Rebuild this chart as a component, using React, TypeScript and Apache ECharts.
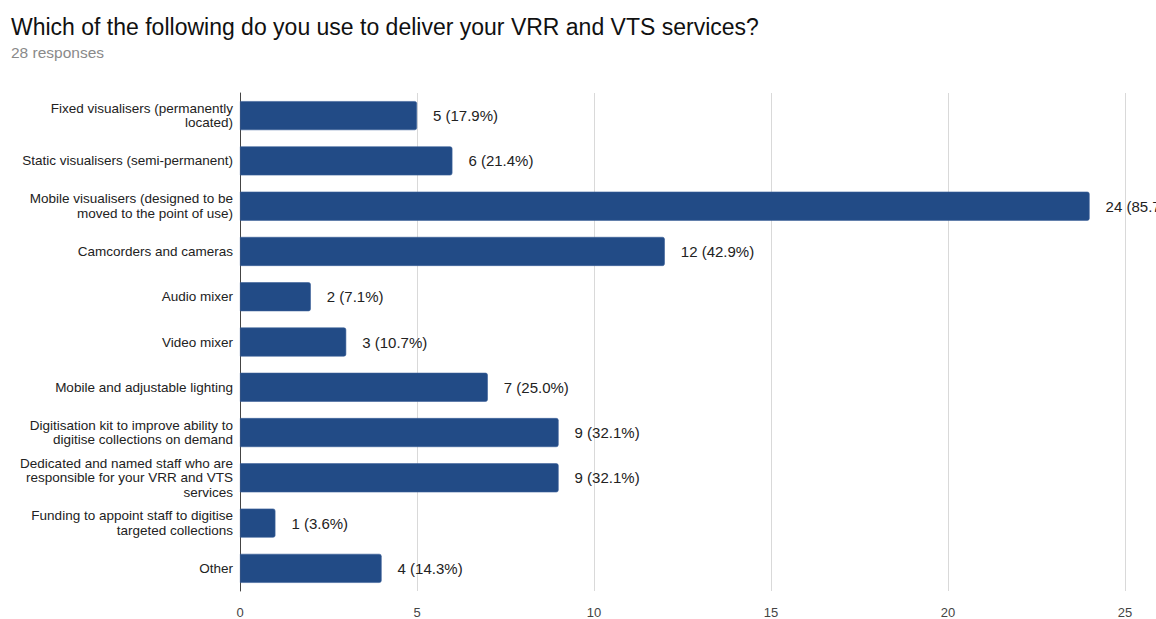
import React, { useEffect, useRef } from "react";
import * as echarts from "echarts";

const title = "Which of the following do you use to deliver your VRR and VTS services?";
const subtitle = "28 responses";
const totalResponses = 28;

const categories = [
  "Fixed visualisers (permanently\nlocated)",
  "Static visualisers (semi-permanent)",
  "Mobile visualisers (designed to be\nmoved to the point of use)",
  "Camcorders and cameras",
  "Audio mixer",
  "Video mixer",
  "Mobile and adjustable lighting",
  "Digitisation kit to improve ability to\ndigitise collections on demand",
  "Dedicated and named staff who are\nresponsible for your VRR and VTS\nservices",
  "Funding to appoint staff to digitise\ntargeted collections",
  "Other",
];

const counts = [5, 6, 24, 12, 2, 3, 7, 9, 9, 1, 4];

const xTicks = [0, 5, 10, 15, 20, 25];

export default function App() {
  const ref = useRef<HTMLDivElement>(null);

  useEffect(() => {
    if (!ref.current) return;
    const chart = echarts.init(ref.current, null, { renderer: "svg" });
    const font = "Arial, 'Liberation Sans', Helvetica, sans-serif";
    chart.setOption({
      animation: false,
      backgroundColor: "#ffffff",
      title: {
        text: title,
        subtext: subtitle,
        left: 6,
        top: 10,
        itemGap: 6,
        textStyle: { fontFamily: font, fontSize: 23, fontWeight: "normal", color: "#111111" },
        subtextStyle: { fontFamily: font, fontSize: 15.5, color: "#8a8a8a" },
      },
      grid: { left: 240, top: 93, width: 885, height: 498, containLabel: false },
      xAxis: {
        type: "value",
        min: 0,
        max: xTicks[xTicks.length - 1],
        interval: 5,
        axisLine: { show: false },
        axisTick: { show: false },
        axisLabel: {
          margin: 15,
          fontFamily: font,
          fontSize: 13,
          color: "#444444",
          formatter: (v: number) => (xTicks.includes(v) ? String(v) : ""),
        },
        splitLine: { show: true, lineStyle: { color: "#d9d9d9", width: 1 } },
      },
      yAxis: {
        type: "category",
        inverse: true,
        data: categories,
        axisLine: { show: true, lineStyle: { color: "#444444", width: 1 } },
        axisTick: { show: false },
        axisLabel: {
          margin: 7,
          fontFamily: font,
          fontSize: 13.5,
          lineHeight: 14.5,
          color: "#222222",
          align: "right",
        },
        splitLine: { show: false },
      },
      series: [
        {
          type: "bar",
          data: counts,
          barWidth: 29,
          itemStyle: {
            color: "#224b86",
            borderRadius: [0, 2, 2, 0],
            borderColor: "#3a6098",
            borderWidth: 0.6,
          },
          label: {
            show: true,
            position: "right",
            distance: 16,
            fontFamily: font,
            fontSize: 15,
            color: "#222222",
            formatter: (p: any) =>
              `${p.value} (${((p.value / totalResponses) * 100).toFixed(1)}%)`,
          },
        },
      ],
    });
    return () => chart.dispose();
  }, []);

  return (
    <div
      ref={ref}
      style={{ position: "fixed", left: 0, top: 0, width: 1156, height: 619 }}
    />
  );
}
